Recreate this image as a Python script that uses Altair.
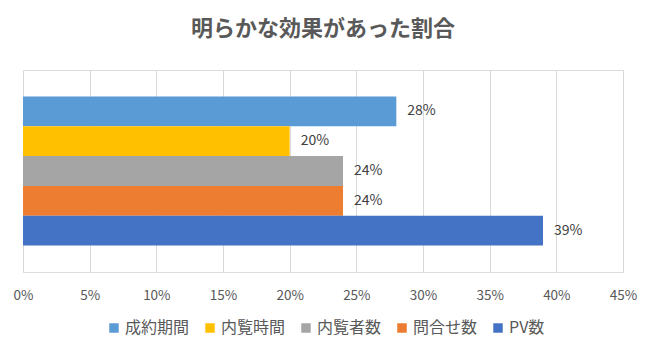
import altair as alt
import pandas as pd

series = ["成約期間", "内覧時間", "内覧者数", "問合せ数", "PV数"]
values = [0.28, 0.20, 0.24, 0.24, 0.39]
colors = ["#5B9BD5", "#FFC000", "#A5A5A5", "#ED7D31", "#4472C4"]
ticks = [0, 0.05, 0.10, 0.15, 0.20, 0.25, 0.30, 0.35, 0.40, 0.45]

df = pd.DataFrame({"series": series, "value": values})
df["label"] = [f"{round(v*100)}%" for v in values]

FONT = "Noto Sans CJK JP"

x = alt.X("value:Q",
          scale=alt.Scale(domain=[0, 0.45], nice=False),
          axis=alt.Axis(values=ticks, format=".0%", title=None, domain=False, ticks=False,
                        grid=True, gridColor="#D9D9D9", labelFontSize=13.5, labelColor="#595959",
                        labelFont=FONT, labelPadding=16, labelFlush=False))
y = alt.Y("series:N", sort=series, axis=None,
          scale=alt.Scale(paddingInner=0, paddingOuter=0.89))

bars = alt.Chart(df).mark_bar().encode(
    x=x, y=y,
    color=alt.Color("series:N", sort=series,
                    scale=alt.Scale(domain=series, range=colors),
                    legend=alt.Legend(orient="none", direction="horizontal", title=None,
                                      legendX=83, legendY=250, symbolType="square",
                                      symbolSize=90, symbolStrokeWidth=0, labelFontSize=16,
                                      labelColor="#595959", labelFont=FONT, columnPadding=12,
                                      labelOffset=3))
)

text = alt.Chart(df).mark_text(align="left", baseline="middle", dx=11, fontSize=14,
                               color="#404040", font=FONT).encode(
    x="value:Q", y=alt.Y("series:N", sort=series), text="label:N")

chart = (bars + text).properties(
    width=600, height=202,
    title=alt.TitleParams("明らかな効果があった割合", fontSize=22, fontWeight="bold",
                          color="#595959", font=FONT, anchor="middle", offset=29),
    autosize=alt.AutoSizeParams(type="none"),
    padding={"left": 23, "top": 70, "right": 32, "bottom": 83},
).configure_view(stroke=None).configure(background="white")

chart.save("out.html", embed_options={"renderer": "svg", "actions": False})
